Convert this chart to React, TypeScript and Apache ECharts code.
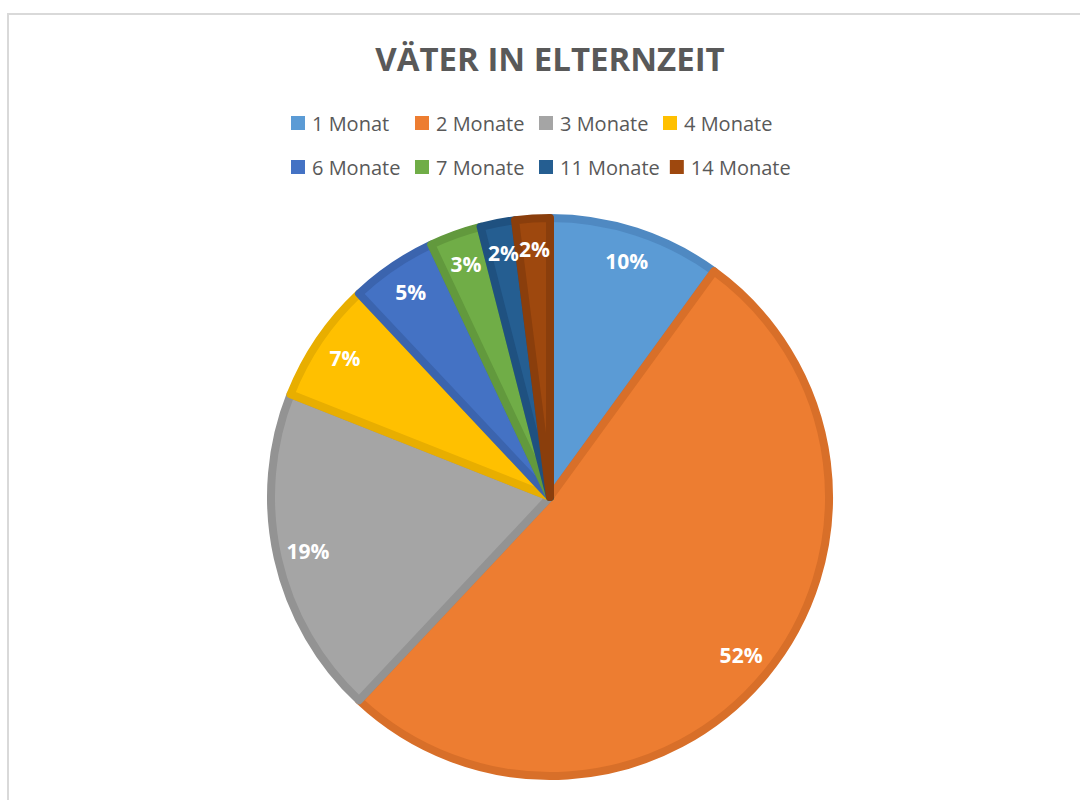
import React, { useEffect, useRef } from "react";
import * as echarts from "echarts";

const categories = ["1 Monat", "2 Monate", "3 Monate", "4 Monate", "6 Monate", "7 Monate", "11 Monate", "14 Monate"];
const values = [10, 52, 19, 7, 5, 3, 2, 2];
const fillColors = ["#5B9BD5", "#ED7D31", "#A5A5A5", "#FFC000", "#4472C4", "#70AD47", "#255E91", "#9E480E"];
const borderColors = ["#4F89C2", "#D86F29", "#939393", "#E8AE00", "#3B64AE", "#62993D", "#1F5180", "#8A3E0C"];
const titleText = "VÄTER IN ELTERNZEIT";

export default function App() {
  const ref = useRef<HTMLDivElement>(null);
  useEffect(() => {
    if (!ref.current) return;
    const chart = echarts.init(ref.current, null, { renderer: "svg" });
    const cx = 550;
    const cy = 497;
    const R = 279;
    chart.setOption({
      animation: false,
      backgroundColor: "#ffffff",
      title: {
        text: titleText,
        left: 545,
        top: 37,
        textAlign: "center",
        textStyle: { fontFamily: "Open Sans", fontWeight: "bold", fontSize: 33, color: "#595959" },
      },
      legend: {
        left: 286,
        top: 101,
        width: 520,
        orient: "horizontal",
        itemWidth: 14,
        itemHeight: 14,
        itemGap: 10,
        icon: "rect",
        data: categories.map((c, i) => ({ name: c, itemStyle: { color: fillColors[i], borderWidth: 0 } })),
        textStyle: {
          fontFamily: "Open Sans",
          fontSize: 20,
          color: "#595959",
          width: 93,
          lineHeight: 34,
          padding: [0, 0, 0, 2],
        },
      },
      graphic: [
        {
          type: "rect",
          shape: { x: 8, y: 14, width: 1200, height: 900 },
          style: { fill: "none", stroke: "#d9d9d9", lineWidth: 2 },
          silent: true,
          z: -10,
        },
      ],
      series: [
        {
          type: "pie",
          center: [cx, cy],
          radius: [0, R],
          startAngle: 90,
          clockwise: true,
          label: { show: false },
          labelLine: { show: false },
          emphasis: { disabled: true },
          data: categories.map((c, i) => ({
            name: c,
            value: values[i],
            itemStyle: { color: fillColors[i], borderColor: borderColors[i], borderWidth: 8 },
          })),
        },
        {
          type: "pie",
          center: [cx, cy],
          radius: [208, 282],
          startAngle: 90,
          clockwise: true,
          silent: true,
          legendHoverLink: false,
          emphasis: { disabled: true },
          itemStyle: { color: "rgba(0,0,0,0)", borderWidth: 0 },
          label: {
            show: true,
            position: "inside",
            formatter: "{c}%",
            color: "#ffffff",
            fontFamily: "Open Sans",
            fontWeight: "bold",
            fontSize: 21,
          },
          labelLine: { show: false },
          data: categories.map((c, i) => ({ name: c, value: values[i] })),
        },
      ],
    });
    return () => chart.dispose();
  }, []);
  return (
    <div
      ref={ref}
      style={{ position: "fixed", left: 0, top: 0, width: 1080, height: 800 }}
    />
  );
}
